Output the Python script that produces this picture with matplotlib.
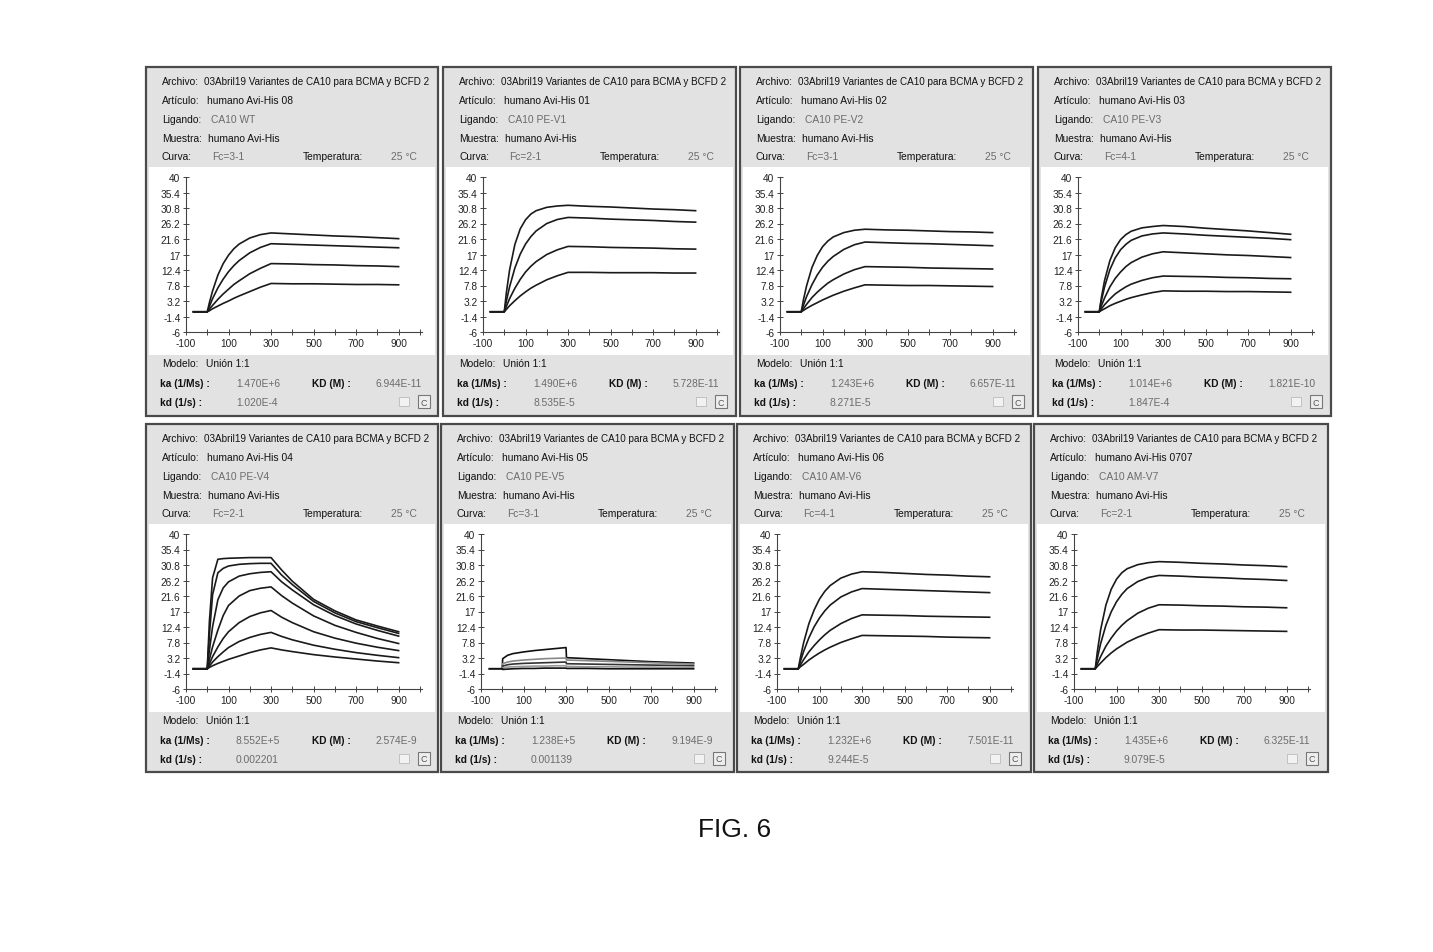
import numpy as np
import matplotlib
matplotlib.use('Agg')
import matplotlib.pyplot as plt
from matplotlib.patches import Rectangle

W, H = 1433, 953
plt.rcParams['font.family'] = ['Liberation Sans Narrow', 'Liberation Sans', 'DejaVu Sans']

# ---- data ----
archivo = '03Abril19 Variantes de CA10 para BCMA y BCFD 2'
articulos = ['humano Avi-His 08', 'humano Avi-His 01', 'humano Avi-His 02', 'humano Avi-His 03',
             'humano Avi-His 04', 'humano Avi-His 05', 'humano Avi-His 06', 'humano Avi-His 0707']
ligandos = ['CA10 WT', 'CA10 PE-V1', 'CA10 PE-V2', 'CA10 PE-V3',
            'CA10 PE-V4', 'CA10 PE-V5', 'CA10 AM-V6', 'CA10 AM-V7']
muestra = 'humano Avi-His'
curvas = ['Fc=3-1', 'Fc=2-1', 'Fc=3-1', 'Fc=4-1', 'Fc=2-1', 'Fc=3-1', 'Fc=4-1', 'Fc=2-1']
temperatura = '25 °C'
modelo = 'Unión 1:1'
ka_vals = ['1.470E+6', '1.490E+6', '1.243E+6', '1.014E+6', '8.552E+5', '1.238E+5', '1.232E+6', '1.435E+6']
kd_vals = ['1.020E-4', '8.535E-5', '8.271E-5', '1.847E-4', '0.002201', '0.001139', '9.244E-5', '9.079E-5']
KD_vals = ['6.944E-11', '5.728E-11', '6.657E-11', '1.821E-10', '2.574E-9', '9.194E-9', '7.501E-11', '6.325E-11']

# time (s) and response (RU) of each sensorgram
t_std = [-65, 0, 10, 25, 50, 75, 100, 125, 150, 200, 250, 300, 400, 500, 600, 700, 800, 900]
t_v4 = [-65, 0, 10, 25, 50, 75, 100, 150, 200, 250, 300, 350, 400, 500, 600, 700, 800, 900]
t_v5 = [-60, 0, 2, 25, 50, 100, 150, 200, 250, 300, 302, 400, 500, 600, 700, 800, 900]

resp_wt = [
    [0, 0, 2.7, 6.2, 10.9, 14.3, 16.8, 18.7, 20.1, 21.9, 22.9, 23.4, 23.1, 22.8, 22.5, 22.3, 22.0, 21.7],
    [0, 0, 1.6, 3.9, 7.1, 9.7, 11.9, 13.7, 15.2, 17.5, 19.1, 20.2, 20.0, 19.8, 19.6, 19.4, 19.2, 19.0],
    [0, 0, 0.8, 1.9, 3.7, 5.3, 6.7, 8.1, 9.2, 11.3, 12.9, 14.3, 14.2, 14.0, 13.9, 13.7, 13.6, 13.4],
    [0, 0, 0.3, 0.9, 1.7, 2.5, 3.2, 4.0, 4.7, 6.0, 7.3, 8.4, 8.3, 8.3, 8.2, 8.1, 8.1, 8.0],
]
resp_v1 = [
    [0, 0, 5.7, 12.4, 20.0, 24.6, 27.3, 29.0, 30.0, 31.0, 31.4, 31.6, 31.3, 31.1, 30.8, 30.5, 30.3, 30.0],
    [0, 0, 3.2, 7.4, 13.0, 17.1, 20.1, 22.3, 24.0, 26.2, 27.4, 28.0, 27.8, 27.5, 27.3, 27.1, 26.8, 26.6],
    [0, 0, 1.6, 3.9, 7.0, 9.6, 11.8, 13.5, 14.9, 17.0, 18.4, 19.4, 19.3, 19.1, 19.0, 18.9, 18.7, 18.6],
    [0, 0, 0.7, 1.8, 3.3, 4.7, 5.9, 7.0, 7.9, 9.5, 10.7, 11.7, 11.7, 11.6, 11.6, 11.6, 11.5, 11.5],
]
resp_v2 = [
    [0, 0, 3.5, 7.7, 13.1, 16.7, 19.3, 21.0, 22.2, 23.5, 24.2, 24.5, 24.3, 24.2, 24.0, 23.8, 23.7, 23.5],
    [0, 0, 1.9, 4.5, 8.0, 10.9, 13.2, 15.0, 16.4, 18.5, 19.9, 20.7, 20.5, 20.3, 20.2, 20.0, 19.8, 19.6],
    [0, 0, 0.9, 2.2, 4.2, 5.8, 7.2, 8.5, 9.5, 11.2, 12.5, 13.4, 13.3, 13.2, 13.0, 12.9, 12.8, 12.7],
    [0, 0, 0.4, 1.0, 1.9, 2.7, 3.5, 4.2, 4.9, 6.1, 7.1, 8.0, 7.9, 7.8, 7.8, 7.7, 7.6, 7.5],
]
resp_v3 = [
    [0, 0, 4.2, 9.3, 15.2, 19.0, 21.4, 22.9, 23.9, 24.9, 25.3, 25.6, 25.3, 24.8, 24.4, 24.0, 23.5, 23.0],
    [0, 0, 3.3, 7.4, 12.5, 16.0, 18.4, 20.0, 21.2, 22.5, 23.1, 23.4, 23.1, 22.7, 22.4, 22.1, 21.8, 21.4],
    [0, 0, 1.8, 4.1, 7.4, 9.9, 11.8, 13.4, 14.6, 16.2, 17.2, 17.8, 17.5, 17.2, 16.9, 16.7, 16.4, 16.1],
    [0, 0, 0.9, 2.1, 3.8, 5.3, 6.4, 7.4, 8.2, 9.3, 10.1, 10.6, 10.5, 10.4, 10.2, 10.1, 9.9, 9.8],
    [0, 0, 0.4, 0.9, 1.8, 2.5, 3.1, 3.7, 4.2, 5.0, 5.7, 6.2, 6.1, 6.1, 6.0, 6.0, 5.9, 5.8],
]
resp_v4 = [
    [0, 0, 14.0, 27.0, 32.5, 32.7, 32.8, 32.9, 33.0, 33.0, 33.0, 29.3, 26.0, 20.6, 17.2, 14.5, 12.7, 11.0],
    [0, 0, 10.0, 22.0, 28.5, 29.8, 30.5, 31.0, 31.2, 31.3, 31.3, 27.8, 25.0, 20.0, 16.6, 14.0, 12.2, 10.5],
    [0, 0, 5.5, 12.5, 20.5, 24.0, 25.8, 27.5, 28.2, 28.6, 28.8, 25.8, 23.4, 19.0, 15.8, 13.3, 11.4, 9.7],
    [0, 0, 2.8, 6.5, 11.5, 15.8, 18.8, 21.6, 23.2, 23.9, 24.3, 21.7, 19.5, 15.7, 12.9, 10.8, 9.0, 7.5],
    [0, 0, 1.5, 3.6, 6.5, 9.0, 11.0, 13.7, 15.5, 16.6, 17.3, 15.3, 13.7, 11.0, 9.1, 7.6, 6.4, 5.4],
    [0, 0, 0.8, 2.0, 3.6, 5.0, 6.3, 8.1, 9.3, 10.2, 10.8, 9.6, 8.6, 7.0, 5.8, 4.8, 4.0, 3.3],
    [0, 0, 0.4, 0.9, 1.6, 2.2, 2.8, 3.8, 4.8, 5.6, 6.2, 5.6, 5.1, 4.2, 3.5, 2.9, 2.3, 1.8],
]
resp_v5 = [
    [0, 0, 3.0, 4.0, 4.5, 5.0, 5.4, 5.7, 6.0, 6.3, 3.3, 3.0, 2.7, 2.4, 2.1, 1.9, 1.7],
    [0, 0, 1.5, 2.0, 2.3, 2.6, 2.8, 3.0, 3.1, 3.2, 2.6, 2.4, 2.2, 2.0, 1.8, 1.6, 1.4],
    [0, 0, 0.8, 1.2, 1.4, 1.6, 1.7, 1.8, 1.9, 2.0, 1.5, 1.4, 1.3, 1.2, 1.1, 1.0, 0.9],
    [0, 0, 0.3, 0.5, 0.6, 0.7, 0.8, 0.8, 0.9, 0.9, 0.7, 0.6, 0.6, 0.5, 0.5, 0.4, 0.4],
    [0, 0, -0.2, -0.1, 0.0, 0.1, 0.1, 0.2, 0.2, 0.2, 0.1, 0.1, 0.0, 0.0, 0.0, 0.0, 0.0],
]
resp_v6 = [
    [0, 0, 3.3, 7.7, 13.4, 17.5, 20.7, 23.0, 24.7, 26.9, 28.1, 28.8, 28.6, 28.3, 28.0, 27.8, 27.5, 27.3],
    [0, 0, 2.2, 5.1, 9.2, 12.5, 15.1, 17.2, 18.9, 21.3, 22.8, 23.8, 23.6, 23.4, 23.2, 23.0, 22.8, 22.6],
    [0, 0, 1.1, 2.7, 5.0, 6.9, 8.6, 10.1, 11.4, 13.4, 14.9, 16.0, 15.9, 15.8, 15.6, 15.5, 15.4, 15.3],
    [0, 0, 0.6, 1.3, 2.6, 3.7, 4.7, 5.6, 6.4, 7.8, 8.9, 9.9, 9.8, 9.7, 9.6, 9.4, 9.3, 9.2],
]
resp_v7 = [
    [0, 0, 5.2, 11.5, 18.9, 23.6, 26.6, 28.5, 29.7, 30.9, 31.5, 31.8, 31.6, 31.3, 31.1, 30.8, 30.6, 30.3],
    [0, 0, 3.2, 7.4, 12.9, 16.9, 19.9, 22.1, 23.8, 25.9, 27.1, 27.7, 27.5, 27.2, 27.0, 26.7, 26.5, 26.2],
    [0, 0, 1.5, 3.6, 6.7, 9.1, 11.2, 12.9, 14.3, 16.5, 18.0, 19.0, 18.9, 18.7, 18.6, 18.4, 18.3, 18.1],
    [0, 0, 0.7, 1.7, 3.3, 4.7, 5.9, 6.9, 7.9, 9.4, 10.6, 11.6, 11.5, 11.5, 11.4, 11.3, 11.2, 11.1],
]
times = [t_std, t_std, t_std, t_std, t_v4, t_v5, t_std, t_std]
responses = [resp_wt, resp_v1, resp_v2, resp_v3, resp_v4, resp_v5, resp_v6, resp_v7]
v5_colors = ['#111111', '#888888', '#333333', '#999999', '#111111']

y_ticks = [-6, -1.4, 3.2, 7.8, 12.4, 17, 21.6, 26.2, 30.8, 35.4, 40]
x_ticks = list(range(-100, 1001, 100))

# panel frames in pixels: left, top, right, bottom
boxes = [(146, 68, 438, 417), (443, 68, 736, 417), (740, 68, 1033, 417), (1038, 68, 1331, 417),
         (146, 425, 438, 773), (441, 425, 734, 773), (737, 425, 1031, 773), (1034, 425, 1328, 773)]

fig = plt.figure(figsize=(W / 100, H / 100), dpi=100)
fig.patch.set_facecolor('white')


def px(x, y):
    return x / W, 1 - y / H


def txt(x, y, s, color='#111111', size=7.4, weight='normal', ha='left'):
    fig.text(*px(x, y), s, color=color, fontsize=size, weight=weight, ha=ha, va='center')


def rect(l, t, r, b, z=-2, **kw):
    fig.add_artist(Rectangle(px(l, b), (r - l) / W, (b - t) / H, transform=fig.transFigure,
                             zorder=z, **kw))


GRAY = '#6c6c6c'
for i, (l, t, r, b) in enumerate(boxes):
    rect(l, t, r, b, facecolor='#e2e2e2', edgecolor='#4a4a4a', lw=1.6)
    rect(l + 3, t + 100, r - 3, t + 288, z=-1, facecolor='white', edgecolor='none')

    txt(l + 16, t + 14, 'Archivo:')
    txt(l + 58, t + 14, archivo, size=7.1)
    txt(l + 16, t + 33, 'Artículo:')
    txt(l + 61, t + 33, articulos[i])
    txt(l + 16, t + 52, 'Ligando:')
    txt(l + 65, t + 52, ligandos[i], color=GRAY)
    txt(l + 16, t + 71, 'Muestra:')
    txt(l + 62, t + 71, muestra)
    txt(l + 16, t + 89, 'Curva:')
    txt(l + 66, t + 89, curvas[i], color=GRAY)
    txt(l + 157, t + 89, 'Temperatura:')
    txt(l + 245, t + 89, temperatura, color=GRAY)

    txt(l + 16, t + 296, 'Modelo:')
    txt(l + 60, t + 296, modelo)
    txt(l + 14, t + 316, 'ka (1/Ms) :', weight='bold', size=7.3)
    txt(l + 90, t + 316, ka_vals[i], color=GRAY)
    txt(l + 166, t + 316, 'KD (M) :', weight='bold', size=7.3)
    txt(l + 230, t + 316, KD_vals[i], color=GRAY)
    txt(l + 14, t + 335, 'kd (1/s) :', weight='bold', size=7.3)
    txt(l + 90, t + 335, kd_vals[i], color=GRAY)
    # small toolbar icons
    rect(l + 272, t + 328, l + 284, t + 341, z=-1, facecolor='#eeeeee', edgecolor='#777777', lw=0.8)
    txt(l + 278, t + 335, 'C', color='#555555', size=6.5, ha='center')
    rect(l + 253, t + 330, l + 263, t + 339, z=-1, facecolor='#f2f2f2', edgecolor='#bbbbbb', lw=0.6)

    ax = fig.add_axes([(l + 40) / W, 1 - (t + 265) / H, 236 / W, 155 / H])
    ax.set_facecolor('none')
    for c_i, resp in enumerate(responses[i]):
        col = v5_colors[c_i] if i == 5 else '#1a1a1a'
        ax.plot(times[i], resp, color=col, lw=1.2)
    ax.set_xlim(-100, 1010)
    ax.set_ylim(-6, 40)
    ax.set_yticks(y_ticks)
    ax.set_yticklabels([f'{v:g}' for v in y_ticks])
    ax.set_xticks(x_ticks)
    ax.set_xticklabels([str(v) if (v + 100) % 200 == 0 and v < 1000 else '' for v in x_ticks])
    for s in ['top', 'right']:
        ax.spines[s].set_visible(False)
    for s in ['left', 'bottom']:
        ax.spines[s].set_color('#444444')
        ax.spines[s].set_linewidth(0.8)
    ax.tick_params(direction='inout', length=4, width=0.7, colors='#444444',
                   labelsize=7.3, labelcolor='#222222', pad=2)

fig.text(735 / W, 1 - 830 / H, 'FIG. 6', fontsize=19, ha='center', va='center',
         family=['Liberation Sans', 'DejaVu Sans'], color='#111111')

fig.savefig('out.png', dpi=100, facecolor='white')
